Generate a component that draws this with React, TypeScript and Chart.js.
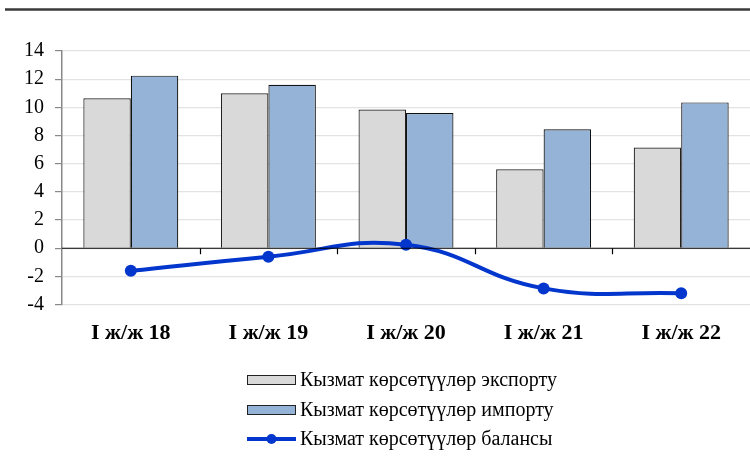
import React, { useEffect, useRef } from "react";
import { Chart, registerables } from "chart.js";

Chart.register(...registerables);

const categories = ["I ж/ж 18", "I ж/ж 19", "I ж/ж 20", "I ж/ж 21", "I ж/ж 22"];
const exportValues = [10.65, 11.0, 9.85, 5.6, 7.15];
const importValues = [12.25, 11.6, 9.6, 8.45, 10.35];
const balanceValues = [-1.6, -0.6, 0.25, -2.85, -3.2];
const seriesLabels = [
  "Кызмат көрсөтүүлөр экспорту",
  "Кызмат көрсөтүүлөр импорту",
  "Кызмат көрсөтүүлөр балансы",
];

const EXPORT_COLOR = "#D9D9D9";
const IMPORT_COLOR = "#95B3D7";
const LINE_COLOR = "#0336CC";
const SERIF = "'Liberation Serif', 'Times New Roman', serif";

const decorPlugin = {
  id: "decor",
  beforeDraw(chart: any) {
    const ctx = chart.ctx;
    ctx.save();
    ctx.strokeStyle = "#3a3a3a";
    ctx.lineWidth = 2.5;
    ctx.beginPath();
    ctx.moveTo(5, 9.5);
    ctx.lineTo(chart.width, 9.5);
    ctx.stroke();
    ctx.restore();
  },
  afterDatasetsDraw(chart: any) {
    const ctx = chart.ctx;
    const x = chart.scales.x;
    const y = chart.scales.y;
    const y0 = y.getPixelForValue(0);
    ctx.save();
    ctx.strokeStyle = "#000";
    ctx.lineWidth = 1.2;
    ctx.beginPath();
    ctx.moveTo(chart.chartArea.left, y0);
    ctx.lineTo(chart.chartArea.right, y0);
    ctx.stroke();
    const n = categories.length;
    for (let i = 1; i < n; i++) {
      const bx = Math.round((x.getPixelForValue(i - 1) + x.getPixelForValue(i)) / 2) + 0.5;
      ctx.beginPath();
      ctx.moveTo(bx, y0);
      ctx.lineTo(bx, y0 + 6);
      ctx.stroke();
    }
    ctx.restore();
  },
  afterDraw(chart: any) {
    const ctx = chart.ctx;
    ctx.save();
    const boxLeft = 247;
    const boxW = 49;
    const textX = 300;
    const rows = [380, 410, 439];
    ctx.font = `20px ${SERIF}`;
    ctx.textBaseline = "middle";
    ctx.fillStyle = "#000";
    const fills = [EXPORT_COLOR, IMPORT_COLOR];
    for (let i = 0; i < 2; i++) {
      ctx.fillStyle = fills[i];
      ctx.fillRect(boxLeft, rows[i] - 5, boxW, 10);
      ctx.strokeStyle = "#222";
      ctx.lineWidth = 1;
      ctx.strokeRect(boxLeft + 0.5, rows[i] - 5 + 0.5, boxW - 1, 9);
    }
    ctx.strokeStyle = LINE_COLOR;
    ctx.lineWidth = 4;
    ctx.beginPath();
    ctx.moveTo(boxLeft, rows[2]);
    ctx.lineTo(boxLeft + boxW, rows[2]);
    ctx.stroke();
    ctx.fillStyle = LINE_COLOR;
    ctx.beginPath();
    ctx.arc(boxLeft + boxW / 2, rows[2], 5, 0, Math.PI * 2);
    ctx.fill();
    ctx.fillStyle = "#000";
    for (let i = 0; i < 3; i++) {
      ctx.fillText(seriesLabels[i], textX, rows[i] + 1);
    }
    ctx.restore();
  },
};

export default function App() {
  const ref = useRef<HTMLCanvasElement>(null);
  useEffect(() => {
    document.body.style.margin = "0";
    const chart = new Chart(ref.current!, {
      type: "bar",
      data: {
        labels: categories,
        datasets: [
          {
            type: "line",
            label: seriesLabels[2],
            data: balanceValues,
            borderColor: LINE_COLOR,
            backgroundColor: LINE_COLOR,
            borderWidth: 4,
            pointRadius: 6,
            pointBackgroundColor: LINE_COLOR,
            pointBorderWidth: 0,
            tension: 0.45,
            order: 0,
          } as any,
          {
            label: seriesLabels[0],
            data: exportValues,
            backgroundColor: EXPORT_COLOR,
            borderColor: "#222",
            borderWidth: 1.2,
            categoryPercentage: 0.69,
            barPercentage: 1.0,
            order: 1,
          },
          {
            label: seriesLabels[1],
            data: importValues,
            backgroundColor: IMPORT_COLOR,
            borderColor: "#111",
            borderWidth: 1.2,
            categoryPercentage: 0.69,
            barPercentage: 1.0,
            order: 1,
          },
        ],
      },
      options: {
        animation: false,
        responsive: false,
        maintainAspectRatio: false,
        layout: { autoPadding: false, padding: { top: 51, left: 13, right: 0, bottom: 108 } },
        plugins: {
          legend: { display: false },
          tooltip: { enabled: false },
        },
        scales: {
          x: {
            grid: { display: false, drawTicks: false },
            border: { display: false },
            ticks: {
              color: "#000",
              padding: 16,
              font: { family: SERIF, size: 22, weight: "bold" },
            },
          },
          y: {
            min: -4,
            max: 14,
            ticks: {
              stepSize: 2,
              color: "#000",
              padding: 11,
              font: { family: SERIF, size: 20 },
            },
            grid: {
              color: "#E3E3E3",
              lineWidth: 1.2,
              tickColor: "#888",
              tickLength: 7,
            },
            border: { color: "#888", width: 1.5 },
          },
        },
      },
      plugins: [decorPlugin],
    });
    return () => chart.destroy();
  }, []);
  return <canvas ref={ref} width={750} height={471} style={{ display: "block" }} />;
}
